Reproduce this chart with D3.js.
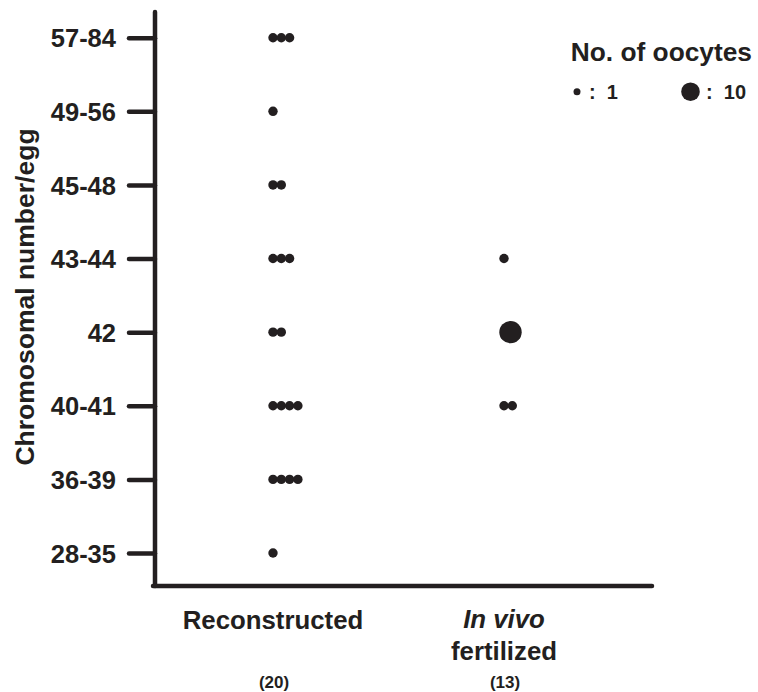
<!DOCTYPE html>
<html><head><meta charset="utf-8">
<script src="https://cdn.jsdelivr.net/npm/d3@7"></script>
<style>
html,body{margin:0;padding:0;background:#fff;}
text{font-family:"Liberation Sans",Arial,Helvetica,sans-serif;font-weight:bold;fill:#231f20;}
</style></head>
<body>
<svg id="chart" width="758" height="692"></svg>
<script>
// ---- data ----
const categories = ["28-35","36-39","40-41","42","43-44","45-48","49-56","57-84"];
const groups = ["Reconstructed","In vivo fertilized"];
const groupTotals = ["(20)","(13)"];
// markers per category (each number = oocytes represented by one dot)
const reconstructedMarkers = [[1],[1,1,1,1],[1,1,1,1],[1,1],[1,1,1],[1,1],[1],[1,1,1]];
const inVivoMarkers = [[],[],[1,1],[10],[1],[],[],[]];
const legendSizes = [1,10];
const legendTitle = "No. of oocytes";
const yTitle = "Chromosomal number/egg";

// ---- drawing ----
const ink = "#231f20";
const svg = d3.select("#chart");
const y = d3.scalePoint().domain(categories).range([553, 37.7]);
const x = d3.scalePoint().domain(groups).range([273, 504]);
const r = d3.scaleLinear().domain([1,10]).range([4.7,11.2]);
const rLegend = d3.scaleLinear().domain([1,10]).range([3.5,9.3]);
const step = 8.3;

// axes
const yAxis = d3.axisLeft(y).tickSize(27).tickPadding(12);
const gy = svg.append("g").attr("transform","translate(155,0)").call(yAxis);
gy.select(".domain").remove();
gy.selectAll(".tick line").attr("stroke",ink).attr("stroke-width",4.5).attr("stroke-linecap","round")
  .attr("x1",-26).attr("x2",0);
gy.selectAll(".tick text").attr("font-size",25.5).attr("fill",ink)
  .style("font-family","'Liberation Sans',Arial,sans-serif").style("font-weight","bold").attr("dy","0.36em");

svg.append("line").attr("x1",155).attr("x2",155).attr("y1",12).attr("y2",586)
  .attr("stroke",ink).attr("stroke-width",4.5).attr("stroke-linecap","round");
svg.append("line").attr("x1",153).attr("x2",652).attr("y1",586).attr("y2",586)
  .attr("stroke",ink).attr("stroke-width",4.5).attr("stroke-linecap","round");

// y title
svg.append("text").attr("transform","translate(34,297) rotate(-90)")
  .attr("text-anchor","middle").attr("font-size",26.5).text(yTitle);

// dots
function drawGroup(group, markers){
  const x0 = x(group);
  markers.forEach((list, ci) => {
    let left = x0 - r(1);
    list.forEach(v => {
      const rr = r(v);
      svg.append("circle").attr("cx", left + rr).attr("cy", y(categories[ci]))
        .attr("r", rr).attr("fill", ink);
      left += step;
    });
  });
}
drawGroup(groups[0], reconstructedMarkers);
drawGroup(groups[1], inVivoMarkers);

// x labels
svg.append("text").attr("x",x(groups[0])).attr("y",629).attr("text-anchor","middle")
  .attr("font-size",25.8).text("Reconstructed");
svg.append("text").attr("x",x(groups[1])).attr("y",628).attr("text-anchor","middle")
  .attr("font-size",25.8).style("font-style","italic").text("In vivo");
svg.append("text").attr("x",x(groups[1])).attr("y",660).attr("text-anchor","middle")
  .attr("font-size",25.8).text("fertilized");
groups.forEach((g,i)=>{
  svg.append("text").attr("x",x(g)+1).attr("y",688).attr("text-anchor","middle")
    .attr("font-size",17).text(groupTotals[i]);
});

// legend
svg.append("text").attr("x",752).attr("y",61).attr("text-anchor","end")
  .attr("font-size",26.3).text(legendTitle);
const legendX = [577, 690.5];
const legendTextX = [589, 706];
legendSizes.forEach((s,i)=>{
  svg.append("circle").attr("cx",legendX[i]).attr("cy",91.7).attr("r",rLegend(s)).attr("fill",ink);
  svg.append("text").attr("x",legendTextX[i]).attr("y",99).attr("font-size",20)
    .attr("xml:space","preserve").style("white-space","pre").text(":  " + s);
});
</script>
</body></html>
